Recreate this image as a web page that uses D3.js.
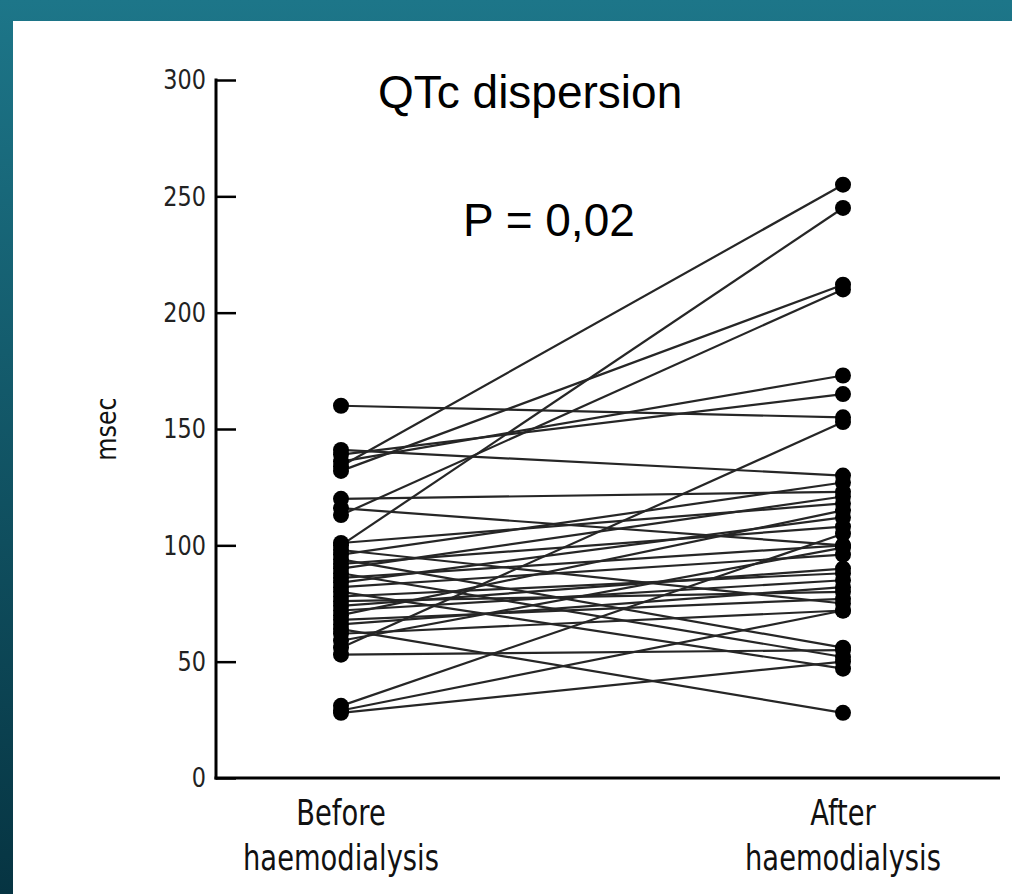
<!DOCTYPE html>
<html>
<head>
<meta charset="utf-8">
<script src="https://cdn.jsdelivr.net/npm/d3@7"></script>
<style>
  html, body { margin: 0; padding: 0; background: #fff; }
  svg { display: block; }
</style>
</head>
<body>
<svg id="chart" width="1012" height="894"></svg>
<script>
// QTc dispersion per patient, before and after haemodialysis (msec)
const before = [160, 141, 139, 136, 134, 132, 120, 116, 113, 101, 100, 98, 96, 94, 92, 90, 88, 86,
                84, 82, 80, 78, 76, 74, 72, 70, 68, 66, 64, 62, 59, 56, 53, 31, 29, 28];
const after  = [155, 130, 165, 173, 255, 212, 123, 100, 210, 118, 245, 75, 127, 56, 108, 121, 52, 100,
                112, 96, 47, 88, 80, 90, 85, 115, 77, 82, 28, 72, 99, 153, 55, 105, 72, 50];
const phases = ["Before|haemodialysis", "After|haemodialysis"];
const yTicks = [0, 50, 100, 150, 200, 250, 300];
const titleText = "QTc dispersion";
const pText = "P = 0,02";
const yLabel = "msec";

const svg = d3.select("#chart");
const W = 1012, H = 894;
const narrowFont = "'DejaVu Sans', sans-serif";

// slide frame: teal gradient behind a white panel
const defs = svg.append("defs");
const grad = defs.append("linearGradient").attr("id", "frame")
  .attr("x1", 0).attr("y1", 0).attr("x2", 0).attr("y2", 1);
grad.append("stop").attr("offset", "0%").attr("stop-color", "#1d7689");
grad.append("stop").attr("offset", "100%").attr("stop-color", "#063442");
svg.append("rect").attr("width", W).attr("height", H).attr("fill", "url(#frame)");
svg.append("rect").attr("x", 13).attr("y", 21).attr("width", W - 13).attr("height", H - 21).attr("fill", "#fff");

const y = d3.scaleLinear().domain([0, 300]).range([778, 80]);
const x = d3.scalePoint().domain(phases).range([341, 843]);
const axisX = 216;

// y axis: ticks pointing inward
const yAxis = svg.append("g").attr("transform", `translate(${axisX},0)`)
  .call(d3.axisRight(y).tickValues(yTicks).tickSize(20).tickFormat(""));
yAxis.select(".domain").remove();
yAxis.selectAll(".tick line").attr("stroke", "#000").attr("stroke-width", 2.5);
svg.append("line").attr("x1", axisX).attr("x2", axisX)
  .attr("y1", y(300) - 1.5).attr("y2", y(0) + 1.5)
  .attr("stroke", "#000").attr("stroke-width", 3);
svg.append("line").attr("x1", axisX - 1.5).attr("x2", 1000)
  .attr("y1", y(0)).attr("y2", y(0))
  .attr("stroke", "#000").attr("stroke-width", 3);

// tick labels, horizontally condensed
svg.append("g").selectAll("g").data(yTicks).join("g")
  .attr("transform", d => `translate(${axisX - 10},${y(d)}) scale(0.86,1)`)
  .append("text")
  .attr("dy", "0.36em").attr("text-anchor", "end")
  .attr("font-family", narrowFont)
  .attr("font-size", 26).attr("fill", "#222")
  .text(d => d);

svg.append("g")
  .attr("transform", `translate(106,${y(150)}) rotate(-90) scale(0.85,1)`)
  .append("text")
  .attr("text-anchor", "middle").attr("dy", "0.35em")
  .attr("font-family", narrowFont)
  .attr("font-size", 28).attr("fill", "#111")
  .text(yLabel);

// category labels, two lines each, condensed
phases.forEach(p => {
  const parts = p.split("|");
  const g = svg.append("g").attr("transform", `translate(${x(p)},0) scale(0.76,1)`);
  g.selectAll("text").data(parts).join("text")
    .attr("x", 0).attr("y", (d, i) => 825 + i * 45)
    .attr("text-anchor", "middle")
    .attr("font-family", narrowFont)
    .attr("font-size", 36).attr("fill", "#111")
    .text(d => d);
});

// paired lines
const pairs = before.map((b, i) => ({ b, a: after[i] }));
svg.append("g").selectAll("line").data(pairs).join("line")
  .attr("x1", x(phases[0])).attr("y1", d => y(d.b))
  .attr("x2", x(phases[1])).attr("y2", d => y(d.a))
  .attr("stroke", "#262626").attr("stroke-width", 2.2);

const dot = 8;
svg.append("g").selectAll("circle").data(before).join("circle")
  .attr("cx", x(phases[0])).attr("cy", d => y(d)).attr("r", dot).attr("fill", "#000");
svg.append("g").selectAll("circle").data(after).join("circle")
  .attr("cx", x(phases[1])).attr("cy", d => y(d)).attr("r", dot).attr("fill", "#000");

// annotations
svg.append("text").attr("x", 378).attr("y", 108)
  .attr("font-family", "'Liberation Sans', Arial, sans-serif")
  .attr("font-size", 46).attr("fill", "#000").text(titleText);
svg.append("text").attr("x", 463).attr("y", 236)
  .attr("font-family", "'Liberation Sans', Arial, sans-serif")
  .attr("font-size", 46).attr("fill", "#000").text(pText);
</script>
</body>
</html>
